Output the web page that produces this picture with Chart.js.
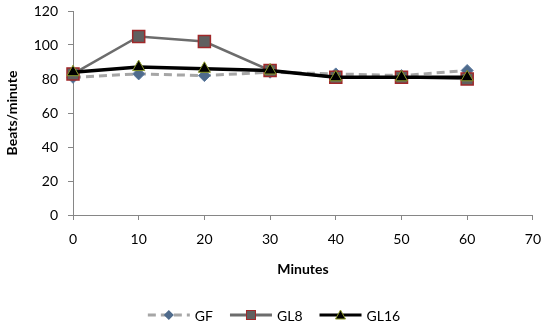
<!DOCTYPE html>
<html>
<head>
<meta charset="utf-8">
<script src="https://cdn.jsdelivr.net/npm/chart.js@4.4.0/dist/chart.umd.min.js"></script>
<style>
  html, body { margin: 0; padding: 0; background: #fff; }
  #wrap { width: 552px; height: 333px; }
</style>
</head>
<body>
<div id="wrap"><canvas id="hrChart" width="552" height="333"></canvas></div>
<script>
// Heart rate over time for the three groups
const minutes = [0, 10, 20, 30, 40, 50, 60];
const gfData = [81, 83, 82, 84, 83, 82, 85];
const gl8Data = [83, 105, 102, 85, 81, 81, 80];
const gl16Data = [84, 87, 86, 85, 81, 81, 81];
const xTicks = [0, 10, 20, 30, 40, 50, 60, 70];
const yTicks = [0, 20, 40, 60, 80, 100, 120];

const fontFamily = 'Lato, Liberation Sans, sans-serif';
const axisFont = { family: fontFamily, size: 14 };
const boldFont = { family: fontFamily, size: 14, weight: 'bold' };

function points(ys) {
    return minutes.map((m, i) => ({ x: m, y: ys[i] }));
}

// Marker shapes used in the legend swatches
function diamond(g, x, y) {
    g.fillStyle = '#4f6b8c';
    g.beginPath();
    g.moveTo(x, y - 5); g.lineTo(x + 5, y); g.lineTo(x, y + 5); g.lineTo(x - 5, y);
    g.closePath(); g.fill();
}
function square(g, x, y) {
    g.fillStyle = '#606060';
    g.strokeStyle = '#a0282a';
    g.lineWidth = 1;
    g.fillRect(x - 4.5, y - 4.5, 9, 9);
    g.strokeRect(x - 4.5, y - 4.5, 9, 9);
}
function triangle(g, x, y) {
    g.fillStyle = '#000000';
    g.strokeStyle = '#8c9a2a';
    g.lineWidth = 1;
    g.beginPath();
    g.moveTo(x, y - 5); g.lineTo(x + 5, y + 4); g.lineTo(x - 5, y + 4);
    g.closePath(); g.fill(); g.stroke();
}

// Legend drawn by hand: line segment with marker, then the label
const legendLine = {
    id: 'legendLine',
    afterDraw(chart) {
        const g = chart.ctx;
        const sw = 42, gapText = 5, gapItem = 17, y = 315;
        g.save();
        g.font = '14px ' + fontFamily;
        const items = chart.data.datasets;
        let total = 0;
        items.forEach((ds, i) => {
            total += sw + gapText + g.measureText(ds.label).width;
            if (i < items.length - 1) total += gapItem;
        });
        let x = (chart.width - total) / 2 - 2;
        items.forEach(ds => {
            g.strokeStyle = ds.borderColor;
            g.lineWidth = ds.legendLineWidth;
            g.setLineDash(ds.borderDash || []);
            g.beginPath();
            g.moveTo(x, y);
            g.lineTo(x + sw, y);
            g.stroke();
            g.setLineDash([]);
            ds.legendMarker(g, x + sw / 2, y);
            g.fillStyle = '#000';
            g.textBaseline = 'middle';
            g.textAlign = 'left';
            g.fillText(ds.label, x + sw + gapText, y + 1);
            x += sw + gapText + g.measureText(ds.label).width + gapItem;
        });
        g.restore();
    }
};

new Chart(document.getElementById('hrChart'), {
    type: 'line',
    data: {
        datasets: [{
            label: 'GF',
            data: points(gfData),
            order: 2,
            clip: false,
            borderColor: '#a6a6a6',
            borderWidth: 3,
            borderDash: [8, 5],
            pointStyle: 'rectRot',
            pointRadius: 6,
            pointBackgroundColor: '#4f6b8c',
            pointBorderColor: '#5b7aa0',
            pointBorderWidth: 1,
            legendLineWidth: 3,
            legendMarker: diamond
        }, {
            label: 'GL8',
            data: points(gl8Data),
            order: 1,
            clip: false,
            borderColor: '#6c6c6c',
            borderWidth: 2.5,
            pointStyle: 'rect',
            pointRadius: 8.5,
            pointBackgroundColor: '#606060',
            pointBorderColor: '#a0282a',
            pointBorderWidth: 1.5,
            legendLineWidth: 3,
            legendMarker: square
        }, {
            label: 'GL16',
            data: points(gl16Data),
            order: 0,
            clip: false,
            borderColor: '#000000',
            borderWidth: 3.5,
            pointStyle: 'triangle',
            pointRadius: 7,
            pointBackgroundColor: '#000000',
            pointBorderColor: '#8c9a2a',
            pointBorderWidth: 1,
            legendLineWidth: 3,
            legendMarker: triangle
        }]
    },
    options: {
        responsive: false,
        animation: false,
        layout: { autoPadding: false, padding: { top: 11, right: 19, bottom: 43, left: 4 } },
        plugins: {
            tooltip: { enabled: false },
            legend: { display: false }
        },
        scales: {
            x: {
                type: 'linear',
                min: 0,
                max: 70,
                afterBuildTicks(scale) {
                    scale.ticks = xTicks.map(v => ({ value: v }));
                },
                afterFit(scale) { scale.height = 75; },
                grid: { display: true, drawOnChartArea: false, tickLength: 5, color: '#868686' },
                border: { color: '#868686', width: 1 },
                ticks: { color: '#000', font: axisFont, padding: 11, maxRotation: 0 },
                title: {
                    display: true,
                    text: 'Minutes',
                    color: '#000',
                    font: boldFont,
                    padding: { top: 4, bottom: 12 }
                }
            },
            y: {
                min: 0,
                max: 120,
                afterBuildTicks(scale) {
                    scale.ticks = yTicks.map(v => ({ value: v }));
                },
                afterFit(scale) {
                    scale.width = 69;
                    scale.paddingTop = 0;
                    scale.paddingBottom = 0;
                },
                grid: { display: true, drawOnChartArea: false, tickLength: 5, color: '#868686' },
                border: { color: '#868686', width: 1 },
                ticks: { color: '#000', font: axisFont, padding: 10 },
                title: {
                    display: true,
                    text: 'Beats/minute',
                    color: '#000',
                    font: boldFont,
                    padding: { top: 0, bottom: 0 }
                }
            }
        }
    },
    plugins: [legendLine]
});
</script>
</body>
</html>
